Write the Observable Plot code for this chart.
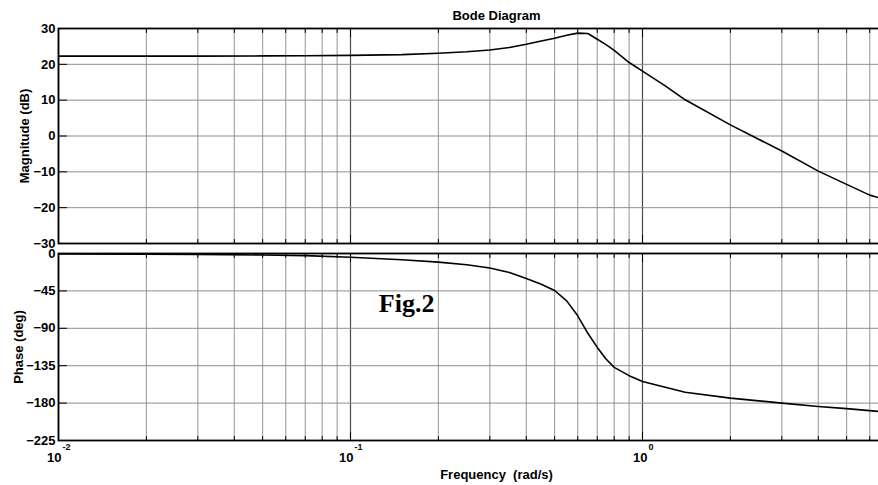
<!DOCTYPE html>
<html>
<head>
<meta charset="utf-8">
<script src="https://cdn.jsdelivr.net/npm/d3@7"></script>
<script src="https://cdn.jsdelivr.net/npm/@observablehq/plot@0.6"></script>
<style>
  html, body { margin: 0; padding: 0; background: white; }
  #chart { position: relative; width: 878px; height: 485px; overflow: hidden; background: white; }
  #chart svg { position: absolute; left: 0; max-width: none !important; }
  #chart text { white-space: pre; }
</style>
</head>
<body>
<div id="chart"></div>
<script>
// ---- Data ----
const magFreq = [0.01, 0.02, 0.03, 0.05, 0.07, 0.1, 0.15, 0.2, 0.25, 0.3, 0.35, 0.4, 0.45, 0.5, 0.55, 0.6, 0.65, 0.7, 0.75, 0.8, 0.9, 1.0, 1.2, 1.4, 2, 3, 4, 5, 6, 6.43];
const magDb   = [22.3, 22.3, 22.3, 22.35, 22.4, 22.5, 22.7, 23.1, 23.5, 24.0, 24.7, 25.6, 26.5, 27.3, 28.1, 28.7, 28.6, 27.0, 25.5, 23.9, 20.5, 18.1, 13.9, 10.1, 3.1, -4.2, -9.8, -13.5, -16.5, -17.2];

const phaseFreq = [0.01, 0.02, 0.03, 0.05, 0.07, 0.1, 0.15, 0.2, 0.25, 0.3, 0.35, 0.4, 0.45, 0.5, 0.55, 0.6, 0.65, 0.7, 0.75, 0.8, 0.9, 1.0, 1.4, 2, 3, 4, 5, 6.43];
const phaseDeg  = [-0.5, -0.8, -1.1, -1.8, -2.6, -4.5, -7.5, -10.4, -13.5, -17.5, -22.8, -30, -37, -44.5, -57, -75, -96, -113, -127, -137, -147, -154, -167, -174, -180, -184, -186.6, -190];

const magTicks = [-30, -20, -10, 0, 10, 20, 30];
const phaseTicks = [0, -45, -90, -135, -180, -225];
const decades = [0.01, 0.1, 1, 10];
const decadeLabels = [
  {freq: 0.01, exp: "-2"},
  {freq: 0.1, exp: "-1"},
  {freq: 1, exp: "0"}
];
const minorMultipliers = [2, 3, 4, 5, 6, 7, 8, 9];
const titleText = "Bode Diagram";
const magLabel = "Magnitude (dB)";
const phaseLabel = "Phase (deg)";
const freqLabel = "Frequency  (rad/s)";
const figNote = [{text: "Fig.2", freq: 0.125, phase: -60}];

// ---- derived tables ----
const magData = magFreq.map((f, i) => ({f, v: magDb[i]}));
const phaseData = phaseFreq.map((f, i) => ({f, v: phaseDeg[i]}));
const minorTicks = decades.slice(0, 3).flatMap(d => minorMultipliers.map(m => d * m));

const font = "'Liberation Sans', Arial, Helvetica, sans-serif";
const tickShape = {draw(context, l) { context.moveTo(0, 0); context.lineTo(0, -l); }};

const xScale = {type: "log", domain: [0.01, 10], axis: null};
const W = 940, ML = 58, MR = 6;

function panelMarks(ticks, data) {
  return [
    Plot.ruleX(minorTicks, {stroke: "#a6a6a6", strokeWidth: 1.2}),
    Plot.ruleX(decades, {stroke: "#4a4a4a", strokeWidth: 1.2}),
    Plot.ruleY(ticks, {stroke: "#8e8e8e", strokeWidth: 1}),
    Plot.line(data, {x: "f", y: "v", stroke: "black", strokeWidth: 1.6}),
    Plot.vector(ticks, {y: d => d, frameAnchor: "left", rotate: 90, anchor: "start", length: 8, shape: tickShape, stroke: "black", strokeWidth: 1}),
    Plot.vector(minorTicks, {x: d => d, frameAnchor: "top", rotate: 180, anchor: "start", length: 4, shape: tickShape, stroke: "black", strokeWidth: 1}),
    Plot.vector(minorTicks, {x: d => d, frameAnchor: "bottom", rotate: 0, anchor: "start", length: 4, shape: tickShape, stroke: "black", strokeWidth: 1}),
    Plot.vector(decades, {x: d => d, frameAnchor: "top", rotate: 180, anchor: "start", length: 8, shape: tickShape, stroke: "black", strokeWidth: 1}),
    Plot.vector(decades, {x: d => d, frameAnchor: "bottom", rotate: 0, anchor: "start", length: 8, shape: tickShape, stroke: "black", strokeWidth: 1}),
    Plot.frame({stroke: "black", strokeWidth: 1.8}),
    Plot.axisY(ticks, {anchor: "left", tickSize: 0, tickPadding: 3, label: null, fontSize: 13, fontWeight: "bold", fill: "black"})
  ];
}

const topPlot = Plot.plot({
  width: W, height: 248,
  marginLeft: ML, marginRight: MR, marginTop: 28, marginBottom: 5,
  x: xScale,
  y: {domain: [-30, 30], axis: null},
  style: {fontFamily: font, fontSize: "13px", background: "white", overflow: "visible"},
  marks: [
    ...panelMarks(magTicks, magData),
    Plot.text([titleText], {text: d => d, frameAnchor: "top", dy: -12.5, lineAnchor: "middle", fontSize: 13, fontWeight: "bold"}),
    Plot.text([magLabel], {text: d => d, frameAnchor: "left", dx: -34, rotate: -90, textAnchor: "middle", lineAnchor: "middle", fontSize: 13, fontWeight: "bold"})
  ]
});
topPlot.style.top = "0px";
topPlot.style.maxWidth = "none";

const bottomPlot = Plot.plot({
  width: W, height: 237,
  marginLeft: ML, marginRight: MR, marginTop: 5, marginBottom: 45,
  x: xScale,
  y: {domain: [-225, 0], axis: null},
  style: {fontFamily: font, fontSize: "13px", background: "transparent", overflow: "visible"},
  marks: [
    ...panelMarks(phaseTicks, phaseData),
    Plot.text([phaseLabel], {text: d => d, frameAnchor: "left", dx: -40, rotate: -90, textAnchor: "middle", lineAnchor: "middle", fontSize: 13, fontWeight: "bold"}),
    Plot.text(decadeLabels.filter(d => d.exp !== "0"), {x: "freq", text: () => "10", frameAnchor: "bottom", textAnchor: "end", lineAnchor: "middle", dx: 3, dy: 17, fontSize: 13, fontWeight: "bold"}),
    Plot.text(decadeLabels.filter(d => d.exp !== "0"), {x: "freq", text: "exp", frameAnchor: "bottom", textAnchor: "start", lineAnchor: "middle", dx: 4, dy: 7, fontSize: 9, fontWeight: "bold"}),
    Plot.text(decadeLabels.filter(d => d.exp === "0"), {x: "freq", text: () => "10", frameAnchor: "bottom", textAnchor: "end", lineAnchor: "middle", dx: 5, dy: 17, fontSize: 13, fontWeight: "bold"}),
    Plot.text(decadeLabels.filter(d => d.exp === "0"), {x: "freq", text: "exp", frameAnchor: "bottom", textAnchor: "start", lineAnchor: "middle", dx: 6, dy: 7, fontSize: 9, fontWeight: "bold"}),
    Plot.text([freqLabel], {text: d => d, frameAnchor: "bottom", dy: 34.5, lineAnchor: "middle", fontSize: 13, fontWeight: "bold"}),
    Plot.text(figNote, {x: "freq", y: "phase", text: "text", textAnchor: "start", lineAnchor: "middle", fontFamily: "'Liberation Serif', 'Times New Roman', serif", fontSize: 26, fontWeight: "bold", fill: "black"})
  ]
});
bottomPlot.style.top = "248px";
bottomPlot.style.maxWidth = "none";

document.getElementById("chart").append(topPlot, bottomPlot);
</script>
</body>
</html>
